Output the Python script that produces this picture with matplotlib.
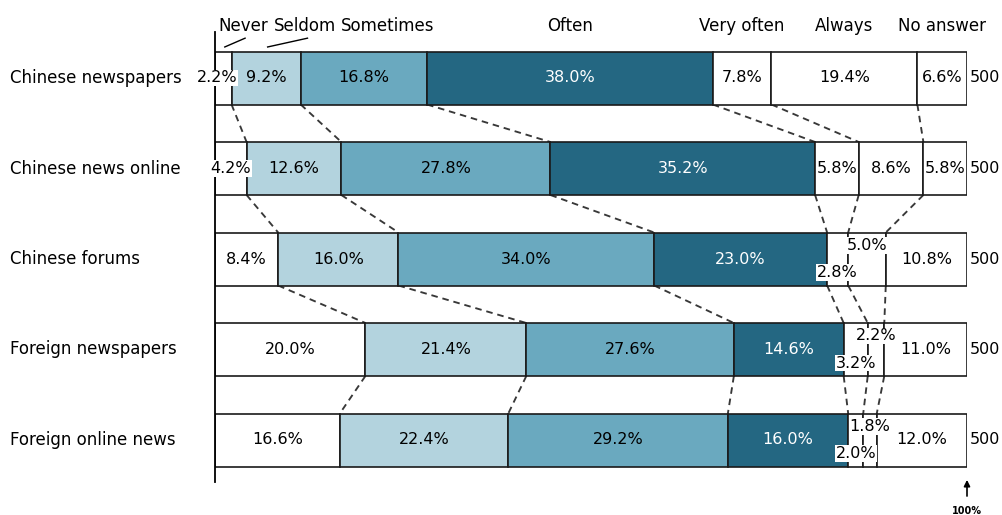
import matplotlib
matplotlib.use("Agg")
import matplotlib.pyplot as plt
import matplotlib.transforms as mtransforms
import numpy as np

# ---------------- data ----------------
categories = ["Chinese newspapers", "Chinese news online", "Chinese forums",
              "Foreign newspapers", "Foreign online news"]
responses = ["Never", "Seldom", "Sometimes", "Often", "Very often", "Always", "No answer"]
never = [2.2, 4.2, 8.4, 20.0, 16.6]
seldom = [9.2, 12.6, 16.0, 21.4, 22.4]
sometimes = [16.8, 27.8, 34.0, 27.6, 29.2]
often = [38.0, 35.2, 23.0, 14.6, 16.0]
very_often = [7.8, 5.8, 2.8, 3.2, 2.0]
always = [19.4, 8.6, 5.0, 2.2, 1.8]
no_answer = [6.6, 5.8, 10.8, 11.0, 12.0]
n_resp = [500, 500, 500, 500, 500]

# ---------------- style / layout ----------------
colors = ["#ffffff", "#b3d3de", "#6aa9bf", "#246782", "#ffffff", "#ffffff", "#ffffff"]
text_colors = ["black", "black", "black", "white", "black", "black", "black"]
white_seg = [True, False, False, False, True, True, True]
FS_WORD = 12
FS_NUM = 11.5

W, H = 1003, 515
fig = plt.figure(figsize=(W / 100, H / 100), dpi=100)
row_px = 90.5
ax = fig.add_axes([215 / W, (H - 482) / H, 752 / W, 450 / H])
ax.set_xlim(0, 100)
ax.set_ylim(4 + 42 / row_px, -46 / row_px)
bar_h = 53 / row_px

for s in ["top", "right", "bottom"]:
    ax.spines[s].set_visible(False)
ax.spines["left"].set_linewidth(1.3)
ax.spines["left"].set_color("black")
ax.set_xticks([])
ax.set_yticks([])

series = [never, seldom, sometimes, often, very_often, always, no_answer]
vals = np.array(series).T  # rows x segments
cum = np.hstack([np.zeros((len(categories), 1)), np.cumsum(vals, axis=1)])
ypos = np.arange(len(categories))

# bars
for j, s in enumerate(series):
    ax.barh(ypos, s, left=cum[:, j], height=bar_h, color=colors[j],
            edgecolor="#1a1a1a", linewidth=1.2, zorder=2)

# connectors between rows (dashed)
for i in range(len(categories) - 1):
    for k in range(1, len(responses)):
        ax.plot([cum[i, k], cum[i + 1, k]],
                [ypos[i] + bar_h / 2, ypos[i + 1] - bar_h / 2],
                color="#383838", lw=1.35, ls=(0, (3.5, 2.6)), zorder=1.5)

# value labels
dx = {(0, 0): -0.8}
dy_very = [0, 0, 0.15, 0.15, 0.15]
dy_always = [0, 0, -0.15, -0.15, -0.15]
for i in range(len(categories)):
    for j in range(len(responses)):
        x = (cum[i, j] + cum[i, j + 1]) / 2 + dx.get((i, j), 0)
        y = ypos[i]
        if j == 4:
            y += dy_very[i]
        if j == 5:
            y += dy_always[i]
        kw = {}
        if white_seg[j]:
            kw["bbox"] = dict(facecolor="white", edgecolor="none", pad=0.6)
        ax.text(x, y, f"{vals[i, j]:.1f}%", ha="center", va="center",
                fontsize=FS_NUM, color=text_colors[j], zorder=4, **kw)
    ax.text(100.4, ypos[i], f"{n_resp[i]}", ha="left", va="center",
            fontsize=FS_NUM, zorder=4)

# category labels
trans = mtransforms.blended_transform_factory(fig.transFigure, ax.transData)
for i, c in enumerate(categories):
    ax.text(10 / W, ypos[i], c, transform=trans, ha="left", va="center",
            fontsize=FS_WORD, clip_on=False)

# header labels
header_y = -0.575
header_x = [3.7, 12.0, 23.0, None, None, None, None]
for j, r in enumerate(responses):
    hx = header_x[j] if header_x[j] is not None else (cum[0, j] + cum[0, j + 1]) / 2
    ax.text(hx, header_y, r, ha="center", va="center", fontsize=FS_WORD, clip_on=False)
# leader lines for the first two headers
for j in (0, 1):
    sx = (cum[0, j] + cum[0, j + 1]) / 2
    ax.plot([sx + 0.2, header_x[j] + 0.3], [-bar_h / 2 - 0.05, -0.44],
            color="black", lw=1.0, clip_on=False, zorder=3)

# 100% marker
ax.annotate("", xy=(100, 4.41), xytext=(100, 4.65),
            arrowprops=dict(arrowstyle="-|>", color="black", lw=1.2, mutation_scale=9),
            annotation_clip=False)
ax.text(100, 4.79, "100%", ha="center", va="center", fontsize=7, fontweight="bold",
        clip_on=False)

fig.savefig("out.png", dpi=100)
